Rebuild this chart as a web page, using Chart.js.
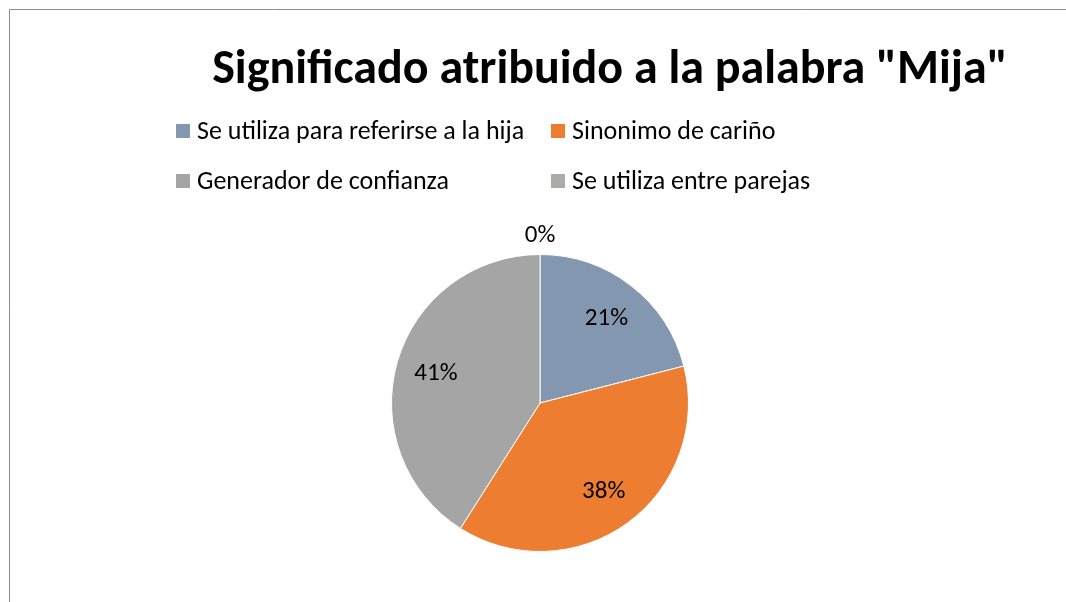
<!DOCTYPE html>
<html>
<head>
<meta charset="utf-8">
<script src="https://cdn.jsdelivr.net/npm/chart.js@4"></script>
<style>
    html, body { margin: 0; padding: 0; background: #fff; }
    #wrap { width: 1066px; height: 602px; }
</style>
</head>
<body>
<div id="wrap"><canvas id="myChart" width="1066" height="602"></canvas></div>
<script>
let labels = ['Se utiliza para referirse a la hija', 'Sinonimo de cariño', 'Generador de confianza', 'Se utiliza entre parejas'];
let data = [21, 38, 41, 0];
let colors = ['#8497B0', '#ED7D31', '#A5A5A5', '#AEAAAA'];
let chartTitle = 'Significado atribuido a la palabra "Mija"';

let fontFamily = "Carlito, Lato, 'Open Sans', sans-serif";

// grey frame on the left and top, like the original sheet
let framePlugin = {
    id: 'frame',
    beforeDraw: function (chart) {
        let ctx = chart.ctx;
        ctx.save();
        ctx.fillStyle = '#fff';
        ctx.fillRect(0, 0, chart.width, chart.height);
        ctx.strokeStyle = '#8c8c8c';
        ctx.lineWidth = 1;
        ctx.beginPath();
        ctx.moveTo(9.5, chart.height);
        ctx.lineTo(9.5, 9.5);
        ctx.lineTo(chart.width, 9.5);
        ctx.stroke();
        ctx.restore();
    }
};

// title + two column legend
let headerPlugin = {
    id: 'header',
    afterDraw: function (chart) {
        let ctx = chart.ctx;
        ctx.save();
        ctx.fillStyle = '#000';
        ctx.textBaseline = 'middle';
        ctx.textAlign = 'center';
        ctx.font = 'bold 48px ' + fontFamily;
        ctx.fillText(chartTitle, 610, 71);

        let colX = [176, 551];
        let rowY = [131, 181];
        ctx.textAlign = 'left';
        ctx.font = '26px ' + fontFamily;
        let bg = chart.data.datasets[0].backgroundColor;
        chart.data.labels.forEach(function (lab, i) {
            let x = colX[i % 2];
            let y = rowY[Math.floor(i / 2)];
            ctx.fillStyle = bg[i];
            ctx.fillRect(x, y - 7, 14, 14);
            ctx.fillStyle = '#000';
            ctx.fillText(lab, x + 21, y + 1);
        });
        ctx.restore();
    }
};

// percentage labels on the slices
let labelPlugin = {
    id: 'sliceLabels',
    afterDatasetsDraw: function (chart) {
        let ctx = chart.ctx;
        let meta = chart.getDatasetMeta(0);
        let values = chart.data.datasets[0].data;
        let total = values.reduce(function (a, b) { return a + b; }, 0);
        ctx.save();
        ctx.fillStyle = '#000';
        ctx.font = '25px ' + fontFamily;
        ctx.textAlign = 'center';
        ctx.textBaseline = 'middle';
        meta.data.forEach(function (arc, i) {
            let p = arc.getProps(['x', 'y', 'startAngle', 'endAngle', 'outerRadius'], true);
            let mid = (p.startAngle + p.endAngle) / 2;
            let r = values[i] > 0 ? p.outerRadius * 0.73 : p.outerRadius + 20;
            let pct = Math.round(values[i] / total * 100) + '%';
            ctx.fillText(pct, p.x + Math.cos(mid) * r, p.y + Math.sin(mid) * r + 1);
        });
        ctx.restore();
    }
};

let myChart = document.getElementById('myChart').getContext('2d');

let chart = new Chart(myChart, {
    type: 'pie',
    data: {
        labels: labels,
        datasets: [{
            data: data,
            backgroundColor: colors,
            borderColor: '#fff',
            borderWidth: 1
        }]
    },
    options: {
        responsive: false,
        animation: false,
        layout: {
            padding: { top: 254, bottom: 50, left: 14, right: 0 }
        },
        plugins: {
            legend: { display: false },
            title: { display: false },
            tooltip: { enabled: false }
        }
    },
    plugins: [framePlugin, headerPlugin, labelPlugin]
});
</script>
</body>
</html>
